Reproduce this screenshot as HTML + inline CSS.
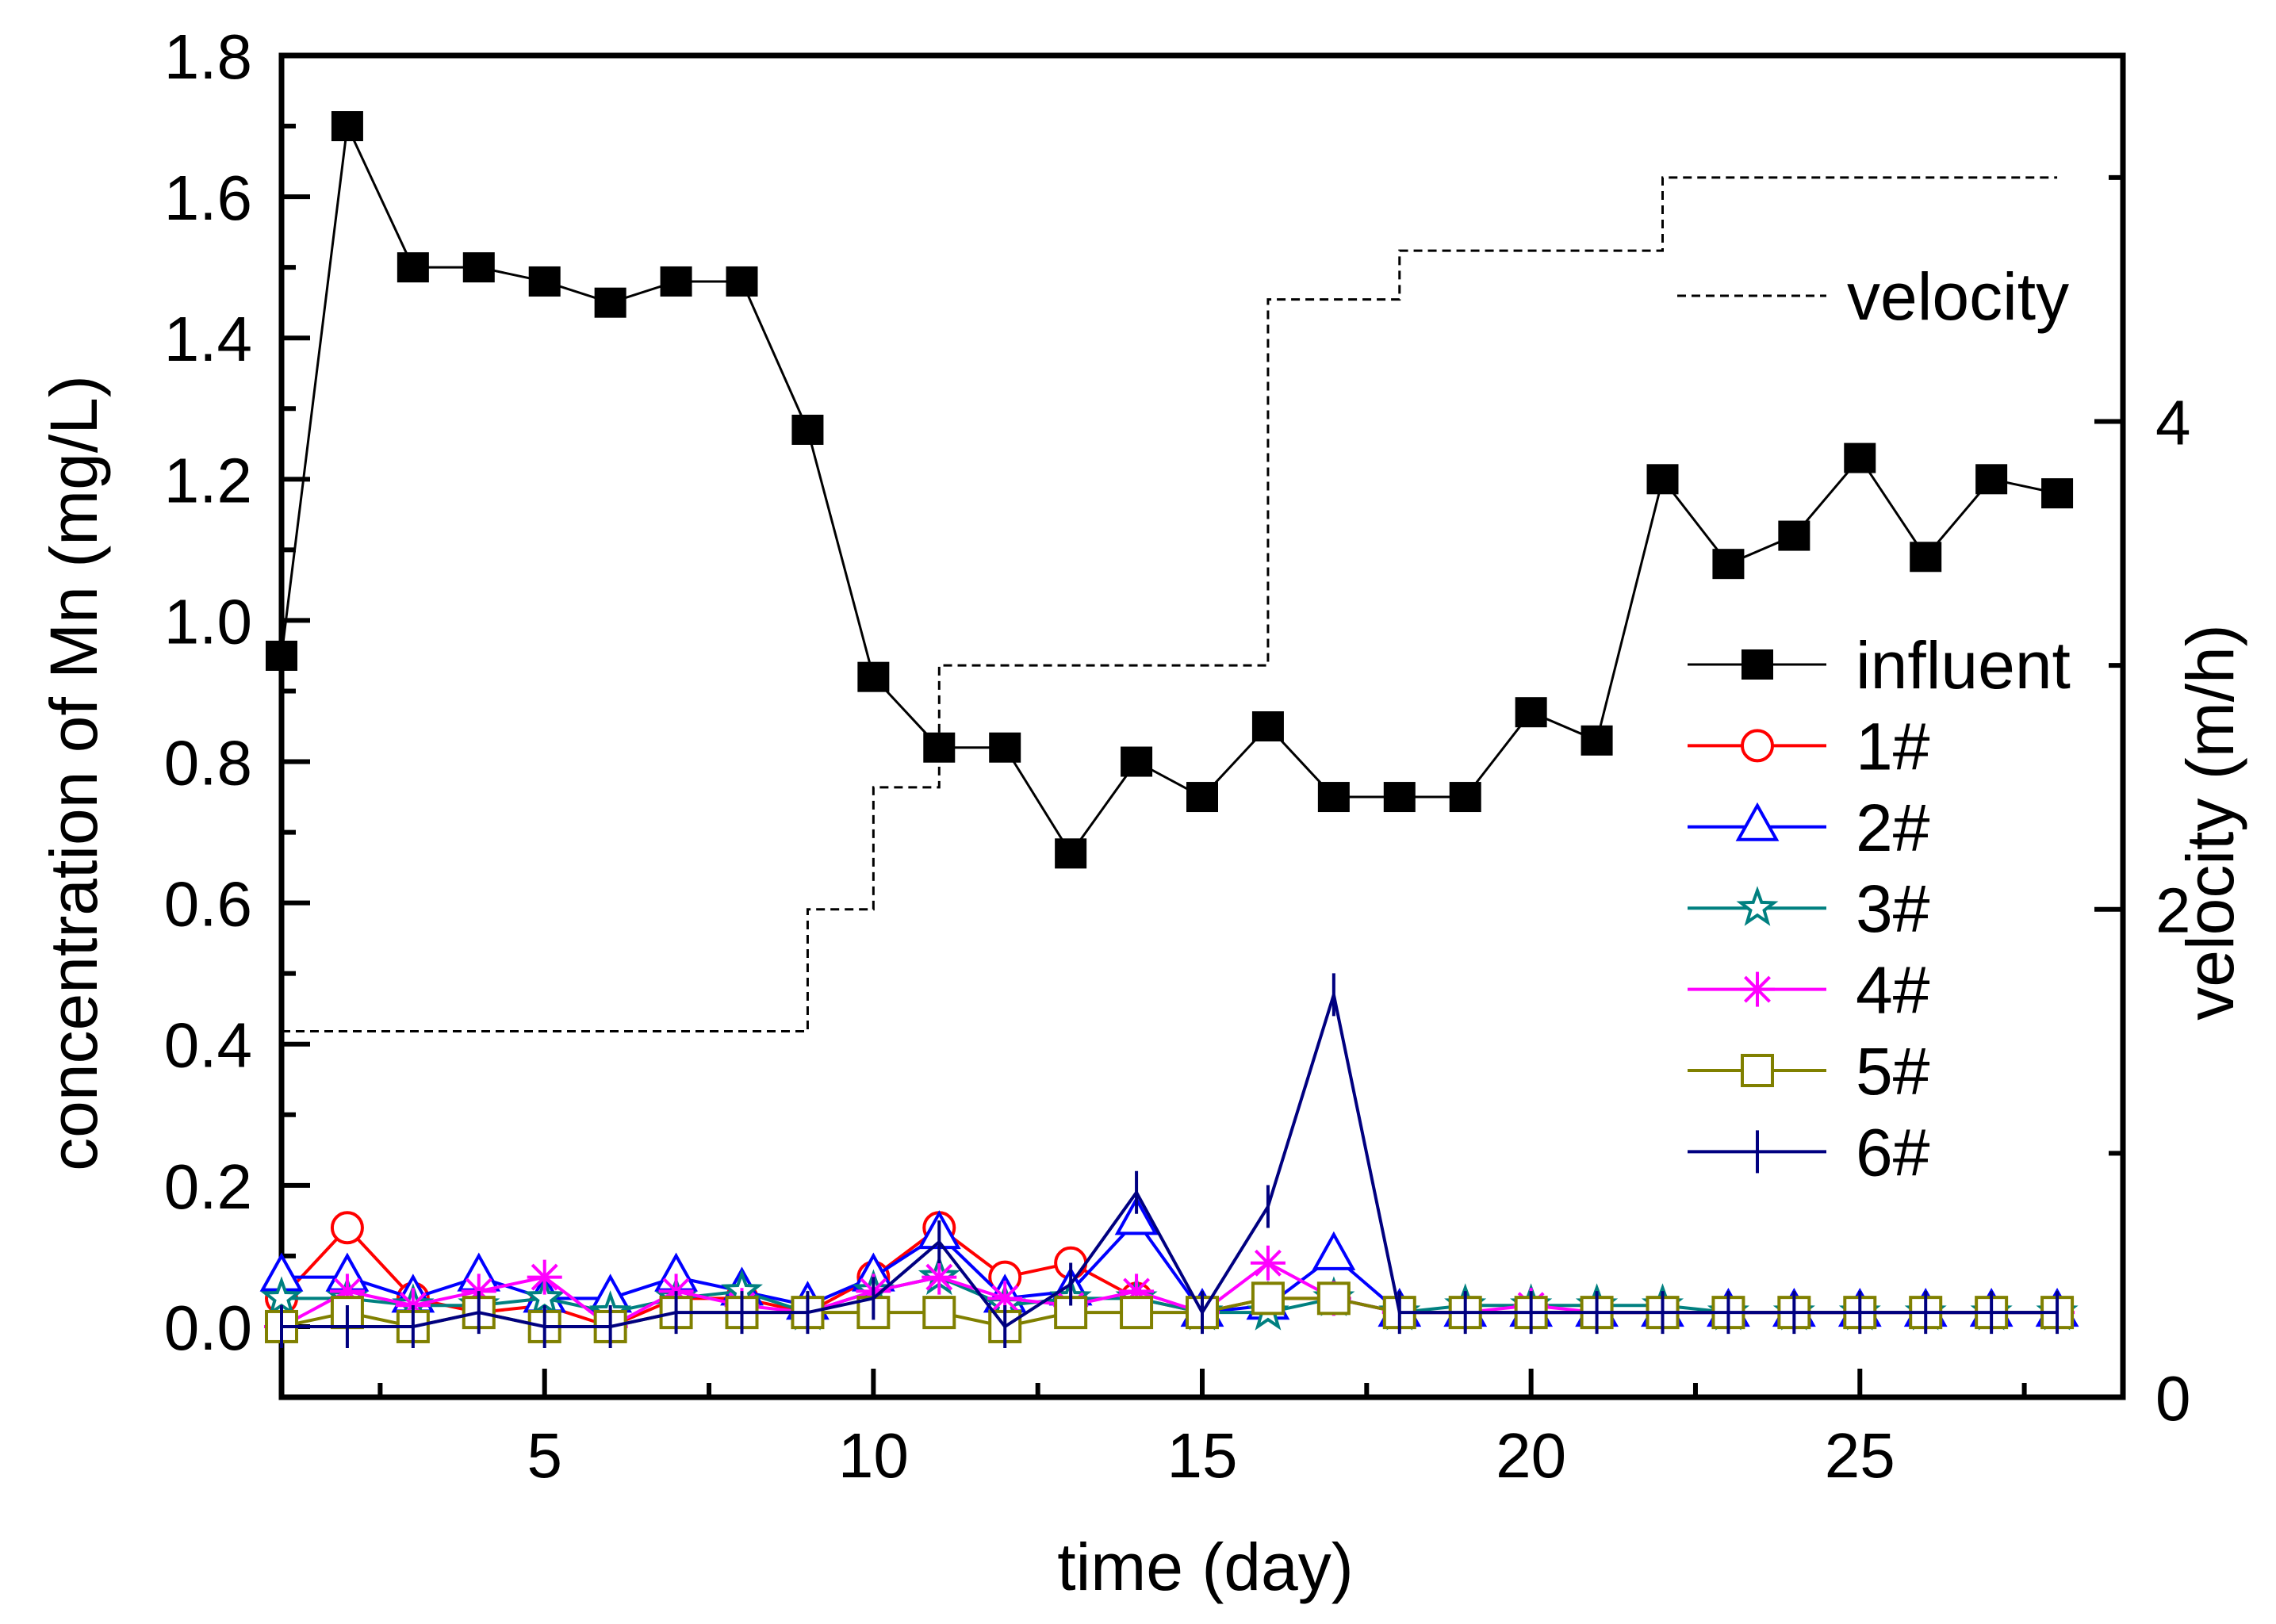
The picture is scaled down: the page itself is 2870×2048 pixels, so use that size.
<!DOCTYPE html>
<html><head><meta charset="utf-8"><style>
html,body{margin:0;padding:0;background:#fff;}
svg{display:block;font-family:"Liberation Sans",Arial,sans-serif;}
</style></head><body>
<svg id="chart" width="2870" height="2048" viewBox="0 0 2870 2048" xmlns="http://www.w3.org/2000/svg">
<g id="marks"></g>
</svg>
<script>
const days = [1,2,3,4,5,6,7,8,9,10,11,12,13,14,15,16,17,18,19,20,21,22,23,24,25,26,27,28];
const influent = [0.95,1.70,1.50,1.50,1.48,1.45,1.48,1.48,1.27,0.92,0.82,0.82,0.67,0.80,0.75,0.85,0.75,0.75,0.75,0.87,0.83,1.20,1.08,1.12,1.23,1.09,1.20,1.18];
const s1 = [0.04,0.14,0.04,0.02,0.03,0.00,0.04,0.04,0.02,0.07,0.14,0.07,0.09,0.04,0.02,0.04,0.04,0.02,0.02,0.02,0.02,0.02,0.02,0.02,0.02,0.02,0.02,0.02];
const s2 = [0.07,0.07,0.04,0.07,0.04,0.04,0.07,0.05,0.03,0.07,0.13,0.04,0.05,0.15,0.02,0.03,0.10,0.02,0.02,0.02,0.02,0.02,0.02,0.02,0.02,0.02,0.02,0.02];
const s3 = [0.04,0.04,0.03,0.03,0.04,0.02,0.04,0.05,0.02,0.05,0.07,0.03,0.04,0.04,0.02,0.02,0.04,0.02,0.03,0.03,0.03,0.03,0.02,0.02,0.02,0.02,0.02,0.02];
const s4 = [0.00,0.05,0.03,0.05,0.07,0.00,0.05,0.03,0.02,0.05,0.07,0.04,0.03,0.05,0.02,0.09,0.04,0.02,0.02,0.03,0.02,0.02,0.02,0.02,0.02,0.02,0.02,0.02];
const s5 = [0.00,0.02,0.00,0.02,0.00,0.00,0.02,0.02,0.02,0.02,0.02,0.00,0.02,0.02,0.02,0.04,0.04,0.02,0.02,0.02,0.02,0.02,0.02,0.02,0.02,0.02,0.02,0.02];
const s6 = [0.00,0.00,0.00,0.02,0.00,0.00,0.02,0.02,0.02,0.04,0.12,0.00,0.06,0.19,0.02,0.17,0.47,0.02,0.02,0.02,0.02,0.02,0.02,0.02,0.02,0.02,0.02,0.02];
const velDays = [1,9,10,11,16,18,22,28];
const velValues = [1.5,2.0,2.5,3.0,4.5,4.7,5.0];
const yTicks = ["0.0","0.2","0.4","0.6","0.8","1.0","1.2","1.4","1.6","1.8"];
const xTicks = [5,10,15,20,25];
const y2Ticks = [0,2,4];

const NS="http://www.w3.org/2000/svg";
const svg=document.getElementById('chart');
const L=355,R=2677,T=70,B=1762;
const X=d=>L+(d-1)/(29-1)*(R-L);
const Y=v=>B-(v+0.1)/(1.9)*(B-T);
const Y2=v=>B-v/5.5*(B-T);
function el(tag,attrs,parent){const e=document.createElementNS(NS,tag);for(const k in attrs)e.setAttribute(k,attrs[k]);(parent||svg).appendChild(e);return e;}

const axG=el('g',{});


for(let i=0;i<=18;i++){const v=i*0.1;const y=Y(v);const len=(i%2==0)?36:18;el('line',{x1:L,x2:L+len,y1:y,y2:y,stroke:'#000','stroke-width':6},axG);}
yTicks.forEach(t=>{const tx=el('text',{x:318,y:Y(parseFloat(t))+29,'font-size':80,'text-anchor':'end'},axG);tx.textContent=t;

});
for(let d=2.5;d<29;d+=2.5){const x=X(d);const len=(Math.abs(d%5)<0.01)?36:18;el('line',{x1:x,x2:x,y1:B,y2:B-len,stroke:'#000','stroke-width':6},axG);}
xTicks.forEach(t=>{const tx=el('text',{x:X(t),y:1863,'font-size':80,'text-anchor':'middle'},axG);tx.textContent=t;

});
for(let v=1;v<=5;v++){const y=Y2(v);const len=(v%2==0)?36:18;el('line',{x1:R,x2:R-len,y1:y,y2:y,stroke:'#000','stroke-width':6},axG);}
y2Ticks.forEach(t=>{const tx=el('text',{x:2718,y:Y2(t)+29,'font-size':80,'text-anchor':'start'},axG);tx.textContent=t;

});
const fr=el('rect',{x:L,y:T,width:R-L,height:B-T,fill:'none',stroke:'#000','stroke-width':7},axG);



let t1=el('text',{x:0,y:0,'font-size':84,'text-anchor':'middle',transform:'translate(122,975) rotate(-90)'});t1.textContent='concentration of Mn (mg/L)';


let t2=el('text',{x:0,y:0,'font-size':84,'text-anchor':'middle',transform:'translate(2816,1037) rotate(-90)'});t2.textContent='velocity (m/h)';


let t3=el('text',{x:1520,y:2005,'font-size':84,'text-anchor':'middle'});t3.textContent='time (day)';



let vp='M'+X(velDays[0])+','+Y2(velValues[0]);
for(let i=0;i<velValues.length;i++){vp+=' L'+X(velDays[i+1])+','+Y2(velValues[i]);if(i+1<velValues.length)vp+=' L'+X(velDays[i+1])+','+Y2(velValues[i+1]);}
const vl=el('path',{d:vp,fill:'none',stroke:'#000','stroke-width':3,'stroke-dasharray':'11,7'});



function marker(g,type,x,y,color){
  if(type==='sq') el('rect',{x:x-20,y:y-19,width:40,height:38,fill:'#000'},g);
  else if(type==='circ') el('circle',{cx:x,cy:y,r:19,fill:'#fff',stroke:color,'stroke-width':4},g);
  else if(type==='tri') el('polygon',{points:`${x},${y-27} ${x-24},${y+16} ${x+24},${y+16}`,fill:'#fff',stroke:color,'stroke-width':4},g);
  else if(type==='star'){let p=[];for(let i=0;i<10;i++){const a=-Math.PI/2+i*Math.PI/5;const r=i%2?9:22;p.push((x+r*Math.cos(a)).toFixed(1)+','+(y+r*Math.sin(a)).toFixed(1));}el('polygon',{points:p.join(' '),fill:'#fff',stroke:color,'stroke-width':4},g);}
  else if(type==='ast'){for(let i=0;i<4;i++){const a=i*Math.PI/4;el('line',{x1:x-22*Math.cos(a),y1:y-22*Math.sin(a),x2:x+22*Math.cos(a),y2:y+22*Math.sin(a),stroke:color,'stroke-width':4},g);}}
  else if(type==='osq') el('rect',{x:x-19,y:y-19,width:38,height:38,fill:'#fff',stroke:color,'stroke-width':4},g);
  else if(type==='plus') el('line',{x1:x,y1:y-27,x2:x,y2:y+27,stroke:color,'stroke-width':4},g);
}
const series=[
 {name:'influent',vals:influent,color:'#000',m:'sq',w:3},
 {name:'1#',vals:s1,color:'#ff0000',m:'circ',w:4},
 {name:'2#',vals:s2,color:'#0000ff',m:'tri',w:4},
 {name:'3#',vals:s3,color:'#008080',m:'star',w:4},
 {name:'4#',vals:s4,color:'#ff00ff',m:'ast',w:4},
 {name:'5#',vals:s5,color:'#808000',m:'osq',w:4},
 {name:'6#',vals:s6,color:'#000080',m:'plus',w:4}
];
series.forEach((s,si)=>{
  const g=el('g',{});
  
  
  const pts=days.map((d,i)=>X(d)+','+Y(s.vals[i])).join(' ');
  el('polyline',{points:pts,fill:'none',stroke:s.color,'stroke-width':s.w},g);
  days.forEach((d,i)=>marker(g,s.m,X(d),Y(s.vals[i]),s.color));
  const lg=el('g',{});
  
  
  const ly=838+si*102.4;
  el('line',{x1:2128,x2:2303,y1:ly,y2:ly,stroke:s.color,'stroke-width':s.w},lg);
  marker(lg,s.m,2216,ly,s.color);
  const tx=el('text',{x:2340,y:ly+30,'font-size':84},lg);tx.textContent=s.name;
});
const vlg=el('g',{});


el('line',{x1:2115,x2:2303,y1:373,y2:373,stroke:'#000','stroke-width':3,'stroke-dasharray':'11,7'},vlg);
const vt=el('text',{x:2329,y:403,'font-size':84},vlg);vt.textContent='velocity';
</script>
</body></html>
